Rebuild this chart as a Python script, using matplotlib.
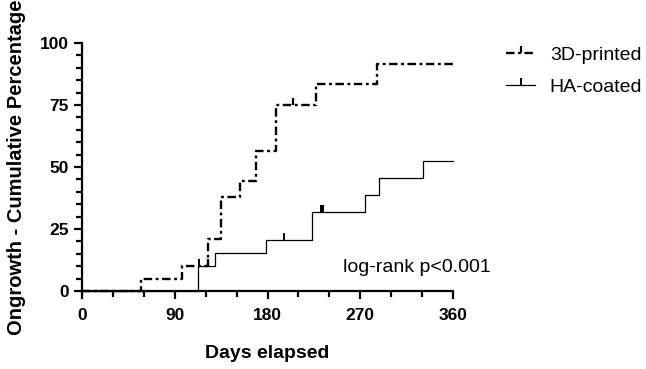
import numpy as np
import matplotlib
matplotlib.use("Agg")
import matplotlib.pyplot as plt
from matplotlib.ticker import MultipleLocator
from matplotlib.legend_handler import HandlerTuple

plt.rcParams['font.family'] = ['Liberation Sans', 'DejaVu Sans']

# 3D-printed group: step times (days) and cumulative ongrowth (%)
printed_days = [0, 57, 97.5, 122.5, 134.5, 153, 168.5, 188.5, 227, 286, 360]
printed_pct = [0, 5.0, 10.0, 21.0, 38.0, 44.3, 56.6, 75.2, 83.6, 91.7, 91.7]
printed_cens_days = [122, 205]
printed_cens_pct = [10.0, 75.2]

# HA-coated group
ha_days = [0, 113, 129, 178.5, 223, 274.5, 288, 331, 360]
ha_pct = [0, 10.1, 15.2, 20.5, 31.9, 38.8, 45.4, 52.3, 52.3]
ha_cens_days = [114, 196, 232, 234]
ha_cens_pct = [10.1, 20.5, 31.9, 31.9]

fig = plt.figure(figsize=(6.46, 3.69), dpi=100)
ax = fig.add_axes([82 / 646, 1 - 291 / 369, 371 / 646, 248 / 369])

dash = (0, (3.6, 1.5, 1.2, 1.5))
l1, = ax.plot(printed_days, printed_pct, drawstyle='steps-post', color='black',
              lw=1.7, linestyle=dash, clip_on=False)
m1, = ax.plot(printed_cens_days, printed_cens_pct, linestyle='none', marker=2,
              ms=5, mew=1.6, color='black', clip_on=False)
l2, = ax.plot(ha_days, ha_pct, drawstyle='steps-post', color='black', lw=0.9,
              clip_on=False)
m2, = ax.plot(ha_cens_days, ha_cens_pct, linestyle='none', marker=2,
              ms=5, mew=1.4, color='black', clip_on=False)

leg = fig.legend([(l1, m1), (l2, m2)], ['3D-printed', 'HA-coated'],
                 handler_map={tuple: HandlerTuple(ndivide=1)},
                 loc='upper left', bbox_to_anchor=(506 / 646, 1 - 46 / 369),
                 frameon=False, fontsize=14, handlelength=1.5,
                 handletextpad=0.75, labelspacing=0.75, borderpad=0,
                 borderaxespad=0, numpoints=1)

ax.set_xlim(0, 360)
ax.set_ylim(0, 100)
ax.xaxis.set_major_locator(MultipleLocator(90))
ax.xaxis.set_minor_locator(MultipleLocator(30))
ax.yaxis.set_major_locator(MultipleLocator(25))
ax.yaxis.set_minor_locator(MultipleLocator(5))

for s in ['top', 'right']:
    ax.spines[s].set_visible(False)
for s in ['left', 'bottom']:
    ax.spines[s].set_linewidth(1.6)

ax.tick_params(which='major', direction='out', length=6, width=1.6,
               labelsize=12.5)
ax.tick_params(axis='x', which='major', pad=6)
ax.tick_params(which='minor', direction='out', length=4, width=1.6)
for lbl in ax.get_xticklabels() + ax.get_yticklabels():
    lbl.set_fontweight('bold')

ax.set_xlabel('Days elapsed', fontsize=14, fontweight='bold', labelpad=16)
ax.set_ylabel('Ongrowth - Cumulative Percentage', fontsize=14.5,
              fontweight='bold', labelpad=10)

ax.text(343, 369 - 267, 'log-rank p<0.001', transform=None, fontsize=14,
        va='center')

fig.savefig('out.png', dpi=100)
